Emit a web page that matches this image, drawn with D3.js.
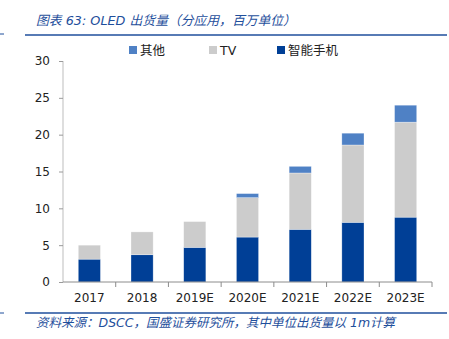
<!DOCTYPE html>
<html>
<head>
<meta charset="utf-8">
<script src="https://cdn.jsdelivr.net/npm/d3@7"></script>
<style>
  body { margin: 0; background: #fff; }
  text { font-family: Tahoma, "DejaVu Sans", "Noto Sans CJK SC", sans-serif; }
</style>
</head>
<body>
<div id="target"></div>
<script>
let years = ["2017", "2018", "2019E", "2020E", "2021E", "2022E", "2023E"];
let phone = [3.1, 3.7, 4.7, 6.1, 7.15, 8.1, 8.8];
let tv = [1.9, 3.1, 3.5, 5.35, 7.65, 10.5, 12.9];
let other = [0, 0, 0, 0.55, 0.9, 1.6, 2.3];
let seriesNames = ["智能手机", "TV", "其他"];
let yTicks = [0, 5, 10, 15, 20, 25, 30];

let width = 449, height = 339;
let color = d3.scaleOrdinal()
  .domain(seriesNames)
  .range(["#003f96", "#cccccc", "#4f81c5"]);

let svg = d3.select("#target").append("svg")
  .attr("width", width)
  .attr("height", height);

let x = d3.scaleBand().domain(years).range([63, 432]).paddingInner(0.58).paddingOuter(0.29);
let band = d3.scaleBand().domain(years).range([63, 432]);
let y = d3.scaleLinear().domain([0, 30]).range([282, 61]);

// header / footer
let blue = "#1f4f9c";
svg.append("text").attr("x", 36).attr("y", 25)
  .attr("font-size", 12.8).attr("font-style", "italic").attr("fill", blue)
  .text("图表 63:  OLED 出货量（分应用，百万单位）");
svg.append("line").attr("x1", 25).attr("x2", 447).attr("y1", 35).attr("y2", 35)
  .attr("stroke", blue).attr("stroke-width", 1.5);
svg.append("line").attr("x1", 0).attr("x2", 4).attr("y1", 34).attr("y2", 34)
  .attr("stroke", blue).attr("stroke-width", 1);
svg.append("line").attr("x1", 25).attr("x2", 447).attr("y1", 313).attr("y2", 313)
  .attr("stroke", blue).attr("stroke-width", 1.5);
svg.append("line").attr("x1", 0).attr("x2", 4).attr("y1", 313).attr("y2", 313)
  .attr("stroke", blue).attr("stroke-width", 1);
svg.append("text").attr("x", 36).attr("y", 327)
  .attr("font-size", 12.5).attr("font-style", "italic").attr("fill", blue)
  .text("资料来源：DSCC，国盛证券研究所，其中单位出货量以 1m计算");

// stacked bars
let rows = years.map((yr, i) => ({ year: yr, "智能手机": phone[i], "TV": tv[i], "其他": other[i] }));
let stack = d3.stack().keys(seriesNames)(rows);

svg.append("g").selectAll("g")
  .data(stack)
  .enter()
  .append("g")
  .attr("fill", (d) => color(d.key))
  .selectAll("rect")
  .data((d) => d.filter((p) => p[1] - p[0] > 0))
  .enter()
  .append("rect")
  .attr("x", (d) => x(d.data.year))
  .attr("width", x.bandwidth())
  .attr("y", (d) => y(d[1]))
  .attr("height", (d) => y(d[0]) - y(d[1]))
  .attr("stroke", "#ffffff")
  .attr("stroke-opacity", 0.5)
  .attr("stroke-width", 0.6);

// y axis
let yAxis = svg.append("g")
  .attr("transform", "translate(63,0)")
  .call(d3.axisLeft(y).tickValues(yTicks).tickSize(4).tickPadding(9));
yAxis.select(".domain").attr("stroke", "#bdbdbd").attr("d", "M0,61V282");
yAxis.selectAll(".tick line").attr("stroke", "#9a9a9a");
yAxis.selectAll("text").attr("font-size", 12).attr("fill", "#222")
  .style("font-family", "Tahoma, 'DejaVu Sans', sans-serif");

// x axis
let xAxis = svg.append("g")
  .attr("transform", "translate(0,282)")
  .call(d3.axisBottom(band).tickSize(0).tickPadding(11));
xAxis.select(".domain").attr("stroke", "#8c8c8c").attr("d", "M63,0H432");
xAxis.selectAll("text").attr("font-size", 12).attr("fill", "#222");
svg.append("g").selectAll("line")
  .data(years)
  .enter()
  .append("line")
  .attr("x1", (d) => band(d) + band.bandwidth())
  .attr("x2", (d) => band(d) + band.bandwidth())
  .attr("y1", 282).attr("y2", 287)
  .attr("stroke", "#8c8c8c");

// legend
let legendItems = [
  { name: "其他", x: 129 },
  { name: "TV", x: 209 },
  { name: "智能手机", x: 277 }
];
let lg = svg.append("g").selectAll("g")
  .data(legendItems)
  .enter()
  .append("g")
  .attr("transform", (d) => "translate(" + d.x + ",46)");
lg.append("rect").attr("width", 8).attr("height", 8).attr("fill", (d) => color(d.name));
lg.append("text").attr("x", 11).attr("y", 9).attr("font-size", 12.5).attr("fill", "#222")
  .text((d) => d.name);
</script>
</body>
</html>
